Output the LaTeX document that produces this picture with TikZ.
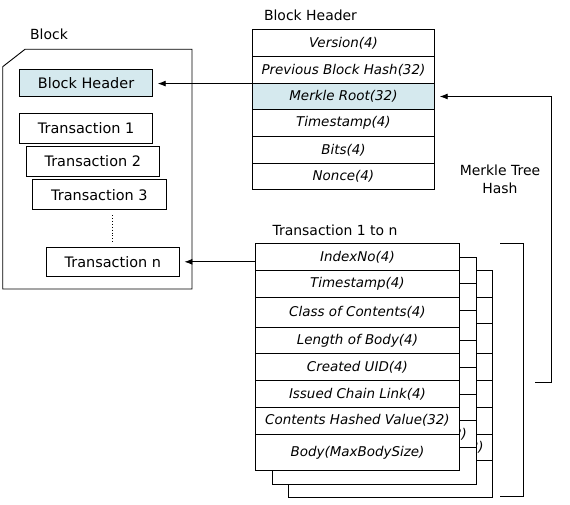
\documentclass[tikz,border=0pt]{standalone}
\usepackage{fontspec}
\setmainfont{DejaVu Sans}
\usetikzlibrary{arrows.meta,calc}
\definecolor{hdrblue}{HTML}{D5E9EE}
\tikzset{
  lbl/.style={font=\fontsize{14}{16}\selectfont},
  boxlbl/.style={font=\fontsize{14.5}{16}\selectfont},
  itl/.style={font=\fontsize{13.5}{16}\selectfont\itshape},
  thin line/.style={line width=0.9bp},
  box/.style={draw, thin line, fill=white, inner sep=0, anchor=north west, boxlbl, minimum width=133.3bp},
  hrow/.style={draw, thin line, fill=white, inner sep=0, anchor=north west, minimum width=182.6bp, minimum height=26.67bp, itl},
  trow/.style={draw, thin line, fill=white, inner sep=0, anchor=north west, minimum width=204bp, itl},
  arr/.style={-{Latex[length=8bp,width=6bp]}, thin line},
}
% full table with texts
\newcommand{\txtable}[3]{%
  \foreach \nm/\dy/\h/\tx in {idx/0/26.7/IndexNo(4), ts/26.7/26.7/Timestamp(4), cls/53.4/30/Class of Contents(4), len/83.4/26.7/Length of Body(4), uid/110.1/26.7/Created UID(4), link/136.8/26.7/Issued Chain Link(4), hash/163.5/26.7/Contents Hashed Value(32), body/190.2/36.7/Body(MaxBodySize)}
    \node[trow, minimum height=\h bp] (#1\nm) at (#2,#3+\dy) {\tx};%
}
% stacked copy behind: only its frame shows, plus the tail of one text
\newcommand{\txframe}[3]{%
  \foreach \nm/\dy/\h in {idx/0/26.7, ts/26.7/26.7, cls/53.4/30, len/83.4/26.7, uid/110.1/26.7, link/136.8/26.7, hash/163.5/26.7, body/190.2/36.7}
    \node[trow, minimum height=\h bp] (#1\nm) at (#2,#3+\dy) {};%
  \node[itl, inner sep=0, anchor=east] (#1frag) at ($(#1hash.center)+(93,0)$) {2)};%
}
\begin{document}
\begin{tikzpicture}[x=1bp, y=-1bp]
\useasboundingbox (0,0) rectangle (570,505);

% Block outline
\draw[thin line] (25,49.3) -- (192,49.3) -- (192,289) -- (2.7,289) -- (2.7,66.7) -- cycle;
\node[lbl] (blocklbl) at (49,34) {Block};

\node[box, fill=hdrblue, minimum height=26.7bp] (bh) at (19,69.3) {Block Header};
\node[box, minimum height=30bp] (t1) at (19,112.7) {Transaction 1};
\node[box, minimum height=30bp] (t2) at (25.7,146) {Transaction 2};
\node[box, minimum height=30bp] (t3) at (32.3,179.3) {Transaction 3};
\node[box, minimum height=29.3bp] (tn) at (45.7,246.7) {Transaction n};
\draw[thin line, dotted] ($(tn.north)+(0,-31.5)$) -- ($(tn.north)+(0,-3.5)$);

% Block header table
\node[lbl] (bhlbl) at (310.5,15.5) {Block Header};
\node[hrow] (ver) at (251.7,29.3) {Version(4)};
\node[hrow] (prev) at (251.7,56) {Previous Block Hash(32)};
\node[hrow, fill=hdrblue] (mr) at (251.7,82.7) {Merkle Root(32)};
\node[hrow] (tstamp) at (251.7,109.3) {Timestamp(4)};
\node[hrow] (bits) at (251.7,136) {Bits(4)};
\node[hrow] (nonce) at (251.7,162.7) {Nonce(4)};

% Transaction tables
\node[lbl] (txlbl) at (335,230) {Transaction 1 to n};
\txframe{c}{288.3}{270}
\txframe{b}{271.7}{256.7}
\txtable{a}{255}{243.3}

% bracket
\coordinate (br1) at (500,243.3);
\coordinate (br2) at (523.3,243.3);
\coordinate (br3) at (523.3,496.7);
\coordinate (br4) at (500,496.7);
\draw[thin line] (br1) -- (br2) -- (br3) -- (br4);

% Merkle tree hash arrow
\coordinate (mstart) at (535,382.7);
\coordinate (mcorner) at (551,382.7);
\draw[arr, shorten >=4.5bp] (mstart) -- (mcorner) -- (mcorner |- mr.east) -- (mr.east);
\node[lbl, align=center] (mthlbl) at (500,179.5) {Merkle Tree\\[1.5pt]Hash};

% arrows to block
\draw[arr, shorten >=4.5bp] (prev.south west) -- (prev.south west -| bh.east);
\draw[arr, shorten >=4.5bp] (tn.east -| aidx.west) -- (tn.east);
\end{tikzpicture}
\end{document}
